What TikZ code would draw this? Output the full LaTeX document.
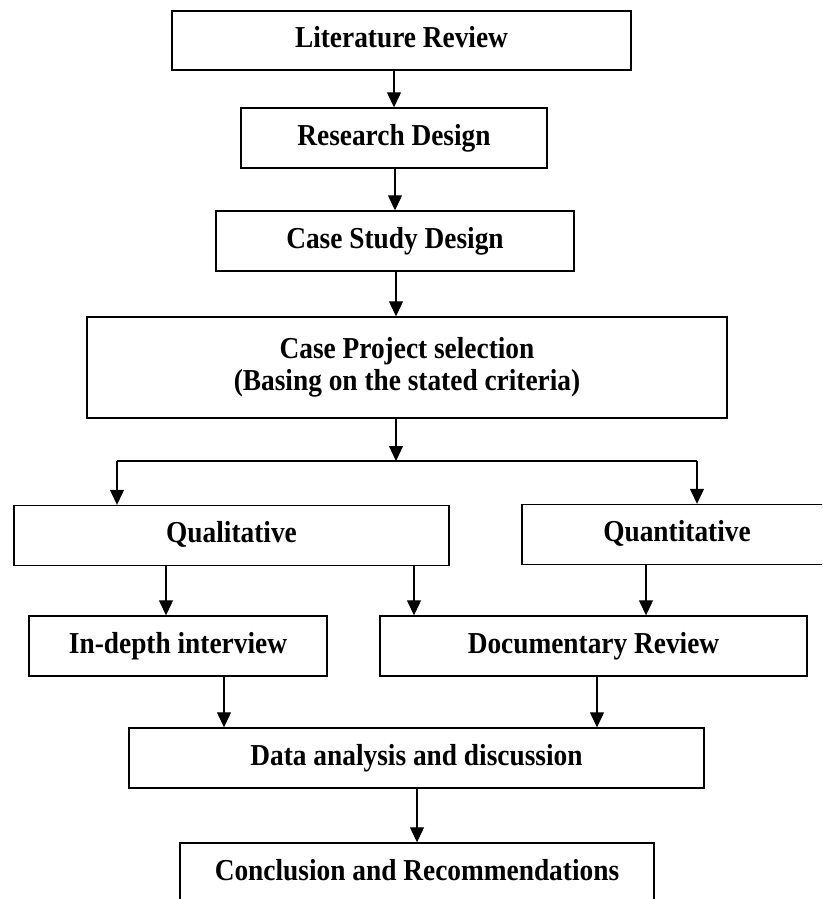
\documentclass[tikz,border=0pt]{standalone}
\usepackage{fontspec}
\setmainfont{Liberation Serif}[FakeStretch=0.9]
\usetikzlibrary{arrows.meta,calc}
\begin{document}
\begin{tikzpicture}[x=1pt,y=-1pt,
  box/.style={draw, line width=1.4pt, rectangle, inner sep=0pt, align=center,
    font=\fontsize{30.4}{32}\selectfont\bfseries},
  onel/.style={box, text height=20pt, text depth=6pt},
  arr/.style={line width=1.2pt, -{Triangle[length=15pt,width=14pt]}},
  ln/.style={line width=1.2pt}]
\useasboundingbox (0,0) rectangle (822,899);
\clip (0,0) rectangle (822,899);
\node[onel, minimum width=459pt, minimum height=59pt] (lit) at (401.5,40.5) {Literature Review};
\node[onel, minimum width=306pt, minimum height=60pt] (res) at (394,138) {Research Design};
\node[onel, minimum width=358pt, minimum height=60pt] (csd) at (395,241) {Case Study Design};
\node[box, minimum width=640pt, minimum height=101pt] (cp) at (407,367.5) {Case Project selection\\(Basing on the stated criteria)};
\node[onel, minimum width=435pt, minimum height=60pt] (ql) at (231.5,535.5) {Qualitative};
\node[onel, minimum width=310pt, minimum height=60pt] (qn) at (677,534.5) {Quantitative};
\node[onel, minimum width=298pt, minimum height=60pt] (idi) at (178,646) {In-depth interview};
\node[onel, minimum width=427pt, minimum height=60pt] (doc) at (593.5,646) {Documentary Review};
\node[onel, minimum width=575pt, minimum height=60pt] (dat) at (416.5,758) {Data analysis and discussion};
\node[onel, minimum width=474pt, minimum height=60pt] (con) at (417,873) {Conclusion and Recommendations};
\coordinate (bc) at (396,461);
\coordinate (bl) at (117,461);
\coordinate (brr) at (697,461);
\draw[arr] (res.north |- lit.south) -- (res.north);
\draw[arr] (csd.north |- res.south) -- (csd.north);
\draw[arr] ($(csd.south)+(1,0)$) -- ($(csd.south |- cp.north)+(1,0)$);
\draw[arr] (bc |- cp.south) -- (bc);
\draw[ln] (bl) -- (brr);
\draw[arr] (bl) -- (bl |- ql.north);
\draw[arr] (brr) -- (brr |- qn.north);
\draw[arr] ($(idi.north |- ql.south)+(-12,0)$) -- ($(idi.north)+(-12,0)$);
\draw[arr] ($(doc.north |- ql.south)+(-179.5,0)$) -- ($(doc.north)+(-179.5,0)$);
\draw[arr] ($(doc.north |- qn.south)+(52.5,0)$) -- ($(doc.north)+(52.5,0)$);
\draw[arr] ($(idi.south)+(46,0)$) -- ($(idi.south |- dat.north)+(46,0)$);
\draw[arr] ($(doc.south)+(3.5,0)$) -- ($(doc.south |- dat.north)+(3.5,0)$);
\draw[arr] (con.north |- dat.south) -- (con.north);
\end{tikzpicture}
\end{document}
